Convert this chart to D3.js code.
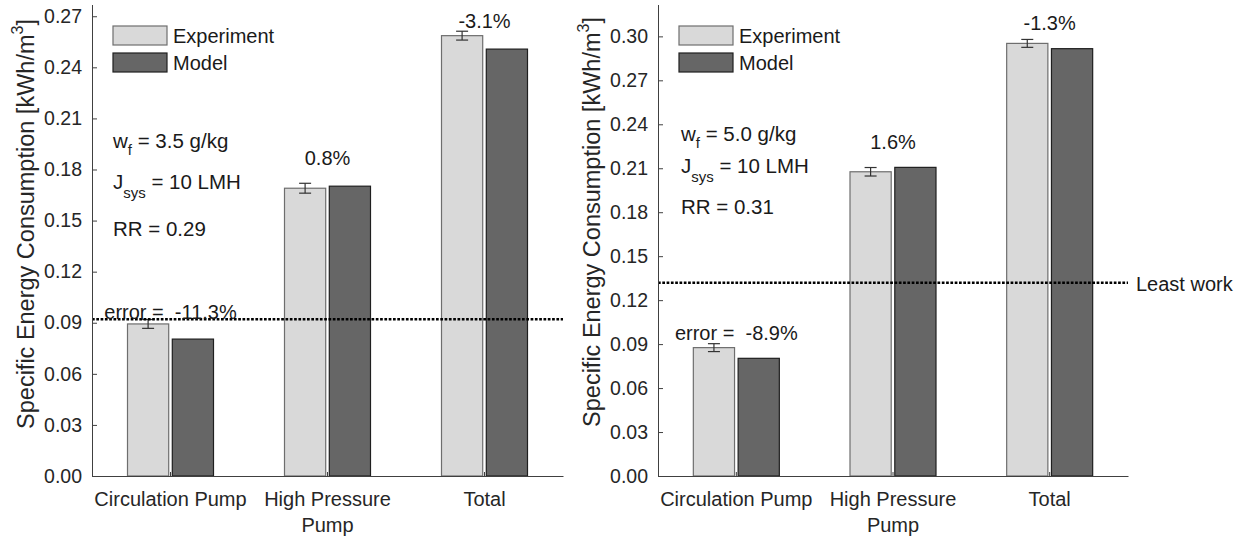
<!DOCTYPE html>
<html>
<head>
<meta charset="utf-8">
<script src="https://cdn.jsdelivr.net/npm/d3@7"></script>
<style>
  html, body { margin: 0; padding: 0; background: #fff; }
  svg { display: block; }
  text { font-family: "Liberation Sans", Arial, Helvetica, sans-serif; white-space: pre; }
</style>
</head>
<body>
<svg id="chart" width="1241" height="539"></svg>
<script>
// ---------- data ----------
const categories = ["Circulation Pump", "High Pressure Pump", "Total"];
const categoryLines = [["Circulation Pump"], ["High Pressure", "Pump"], ["Total"]];
const seriesNames = ["Experiment", "Model"];

// left panel (w_f = 3.5 g/kg)
const expLeft   = [0.0893, 0.1690, 0.2586];
const errLeft   = [0.0026, 0.0029, 0.0026];
const modelLeft = [0.0804, 0.1702, 0.2507];
const pctLeft   = ["error =  -11.3%", "0.8%", "-3.1%"];
const pctYLeft  = [0.0963, 0.1867, 0.2672];
const leastWorkLeft = 0.0920;
const yTicksLeft = [0, 0.03, 0.06, 0.09, 0.12, 0.15, 0.18, 0.21, 0.24, 0.27];
const yMaxLeft = 0.2766;
const condLeft = { wf: "3.5 g/kg", J: "10 LMH", RR: "0.29" };

// right panel (w_f = 5.0 g/kg)
const expRight   = [0.0876, 0.2076, 0.2952];
const errRight   = [0.0027, 0.0029, 0.0027];
const modelRight = [0.0803, 0.2106, 0.2916];
const pctRight   = ["error =  -8.9%", "1.6%", "-1.3%"];
const pctYRight  = [0.0976, 0.2279, 0.3091];
const leastWorkRight = 0.1319;
const yTicksRight = [0, 0.03, 0.06, 0.09, 0.12, 0.15, 0.18, 0.21, 0.24, 0.27, 0.30];
const yMaxRight = 0.3214;
const condRight = { wf: "5.0 g/kg", J: "10 LMH", RR: "0.31" };

// ---------- style ----------
const AX = "#404040", TXT = "#262626";
const FILL = { Experiment: "#d9d9d9", Model: "#666666" };
const EDGE = { Experiment: "#6e6e6e", Model: "#1f1f1f" };
const FS = 20;      // general text
const FST = 19.5;   // tick labels
const FSA = 20.5;   // annotations
const FSY = 23.5;   // y label

const svg = d3.select("#chart");

function drawPanel(o) {
  const g = svg.append("g");
  const x = d3.scaleBand().domain(categories).range([o.x0, o.x1]).paddingInner(0).paddingOuter(0);
  const y = d3.scaleLinear().domain([0, o.yMax]).range([o.yBottom, o.yTop]);
  const sub = d3.scaleBand().domain(seriesNames).range([-43, 43]).paddingInner(0.08);
  const cx = c => x(c) + x.bandwidth() / 2;

  // bars
  const rows = categories.map((c, i) => ({ c, i, Experiment: o.exp[i], Model: o.model[i], err: o.err[i] }));
  seriesNames.forEach(s => {
    g.selectAll(null).data(rows).join("rect")
      .attr("x", d => cx(d.c) + sub(s))
      .attr("width", sub.bandwidth())
      .attr("y", d => y(d[s]))
      .attr("height", d => y(0) - y(d[s]))
      .attr("fill", FILL[s]).attr("stroke", EDGE[s]).attr("stroke-width", 1.2);
  });

  // error bars on experiment
  const eb = g.selectAll(null).data(rows).join("g")
    .attr("stroke", "#333").attr("stroke-width", 1.2).attr("fill", "none");
  const ex = d => cx(d.c) + sub("Experiment") + sub.bandwidth() / 2;
  eb.append("line")
    .attr("x1", ex).attr("x2", ex)
    .attr("y1", d => y(d.Experiment - d.err)).attr("y2", d => y(d.Experiment + d.err));
  [-1, 1].forEach(sg => {
    eb.append("line")
      .attr("x1", d => ex(d) - 6).attr("x2", d => ex(d) + 6)
      .attr("y1", d => y(d.Experiment + sg * d.err)).attr("y2", d => y(d.Experiment + sg * d.err));
  });

  // least work line
  g.append("line")
    .attr("x1", o.x0).attr("x2", o.x1)
    .attr("y1", y(o.leastWork)).attr("y2", y(o.leastWork))
    .attr("stroke", "#000").attr("stroke-width", 2.5).attr("stroke-dasharray", "2.7,1.6");

  // y axis
  const ya = g.append("g").attr("transform", `translate(${o.x0},0)`)
    .call(d3.axisLeft(y).tickValues(o.yTicks).tickFormat(d3.format(".2f")).tickSizeInner(-5).tickSizeOuter(0).tickPadding(10));
  ya.select(".domain").attr("stroke", AX).attr("d", `M0.5,${o.yTop}V${o.yBottom}`);
  ya.selectAll(".tick line").attr("stroke", AX);
  ya.selectAll(".tick text").attr("fill", TXT).style("font-size", FST + "px")
    .style("font-family", "'Liberation Sans', Arial, sans-serif");

  // x axis
  const xa = g.append("g").attr("transform", `translate(0,${o.yBottom})`)
    .call(d3.axisBottom(x).tickSizeInner(-4).tickSizeOuter(0).tickFormat(""));
  xa.select(".domain").attr("stroke", AX);
  xa.selectAll(".tick line").attr("stroke", AX);
  categories.forEach((c, i) => {
    categoryLines[i].forEach((ln, k) => {
      g.append("text").attr("x", cx(c)).attr("y", o.yBottom + 23 + k * 26)
        .attr("text-anchor", "middle").attr("dominant-baseline", "central")
        .attr("fill", TXT).style("font-size", FS + "px").text(ln);
    });
  });

  // y label
  const yl = g.append("text")
    .attr("transform", `translate(${o.ylabelX},${o.ylabelY}) rotate(-90)`)
    .attr("text-anchor", "middle").attr("dominant-baseline", "central")
    .attr("fill", TXT).style("font-size", FSY + "px");
  yl.append("tspan").text("Specific Energy Consumption [kWh/m");
  yl.append("tspan").attr("dy", -9).style("font-size", "16px").text("3");
  yl.append("tspan").attr("dy", 9).text("]");

  // percentage labels
  categories.forEach((c, i) => {
    g.append("text").attr("x", cx(c)).attr("y", y(o.pctY[i]))
      .attr("text-anchor", "middle").attr("dominant-baseline", "central")
      .attr("fill", "#1a1a1a").style("font-size", FS + "px").text(o.pct[i]);
  });

  // legend
  seriesNames.forEach((s, k) => {
    const ly = o.legY + k * 27;
    g.append("rect").attr("x", o.legX).attr("y", ly).attr("width", 54).attr("height", 19)
      .attr("fill", FILL[s]).attr("stroke", EDGE[s]).attr("stroke-width", 1.2);
    g.append("text").attr("x", o.legX + 60).attr("y", ly + 10)
      .attr("dominant-baseline", "central").attr("fill", "#1a1a1a")
      .style("font-size", FS + "px").text(s);
  });

  // condition annotations
  const t1 = g.append("text").attr("x", o.annX).attr("y", o.annY[0]).attr("dominant-baseline", "central")
    .attr("fill", "#1a1a1a").style("font-size", FSA + "px");
  t1.append("tspan").text("w");
  t1.append("tspan").attr("dy", 9).style("font-size", "15px").text("f");
  t1.append("tspan").attr("dy", -9).text(" = " + o.cond.wf);
  const t2 = g.append("text").attr("x", o.annX).attr("y", o.annY[1]).attr("dominant-baseline", "central")
    .attr("fill", "#1a1a1a").style("font-size", FSA + "px");
  t2.append("tspan").text("J");
  t2.append("tspan").attr("dy", 11).style("font-size", "15px").text("sys");
  t2.append("tspan").attr("dy", -11).text(" = " + o.cond.J);
  g.append("text").attr("x", o.annX).attr("y", o.annY[2]).attr("dominant-baseline", "central")
    .attr("fill", "#1a1a1a").style("font-size", FSA + "px").text("RR = " + o.cond.RR);

  if (o.leastLabel) {
    g.append("text").attr("x", o.x1 + 8).attr("y", y(o.leastWork) + 1)
      .attr("dominant-baseline", "central").attr("fill", "#1a1a1a")
      .style("font-size", FS + "px").text("Least work");
  }
}

drawPanel({
  x0: 92, x1: 563, yTop: 5, yBottom: 476, yMax: yMaxLeft, yTicks: yTicksLeft,
  exp: expLeft, err: errLeft, model: modelLeft, pct: pctLeft, pctY: pctYLeft,
  leastWork: leastWorkLeft, cond: condLeft, legX: 113, legY: 26,
  annX: 113, annY: [140, 181, 228], ylabelX: 26, ylabelY: 224, leastLabel: false
});
drawPanel({
  x0: 658, x1: 1128, yTop: 5, yBottom: 476, yMax: yMaxRight, yTicks: yTicksRight,
  exp: expRight, err: errRight, model: modelRight, pct: pctRight, pctY: pctYRight,
  leastWork: leastWorkRight, cond: condRight, legX: 679, legY: 26,
  annX: 681, annY: [133, 165, 206], ylabelX: 592, ylabelY: 222, leastLabel: true
});
</script>
</body>
</html>
